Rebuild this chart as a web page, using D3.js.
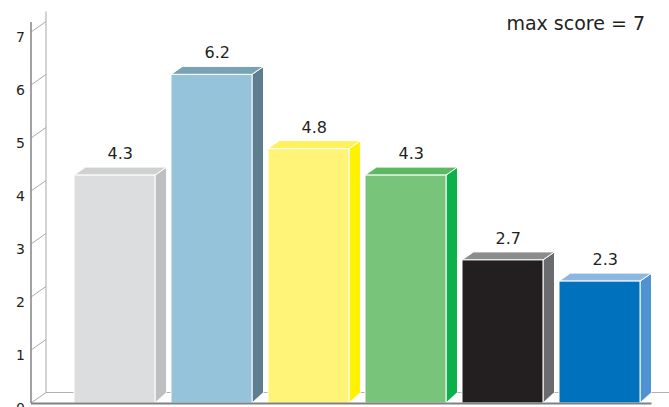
<!DOCTYPE html>
<html>
<head>
<meta charset="utf-8">
<script src="https://d3js.org/d3.v7.min.js"></script>
<style>
    body { margin: 0; background: #fff; }
    text { font-family: "DejaVu Sans", sans-serif; fill: #231f20; }
</style>
</head>
<body>
<div id="chart"></div>
<script>
// data
var categories = ["A", "B", "C", "D", "E", "F"];
var scores = [4.3, 6.2, 4.8, 4.3, 2.7, 2.3];
var tickValues = [0, 1, 2, 3, 4, 5, 6, 7];
var maxScore = 7;
var frontColors = ["#dcdddf", "#94c3da", "#fff378", "#77c47a", "#231f20", "#0071bc"];
var sideColors  = ["#bebfc1", "#5e7e8f", "#fff200", "#0db14b", "#6a6b6e", "#4f92d1"];
var topColors   = ["#cfd0d2", "#78a2b6", "#fff15c", "#5cb962", "#8b8c8e", "#8cb7e2"];

var width = 669, height = 407;
var axisX = 31, wallDX = 15, wallDY = 10.5;
var barDX = 11.5, barDY = 8;

var svg = d3.select("#chart").append("svg")
    .attr("width", width)
    .attr("height", height);

var y = d3.scaleLinear().domain([0, maxScore]).range([403, 32]);
var x = d3.scaleBand().domain(categories)
    .range([66, 648])
    .paddingInner(0.165)
    .paddingOuter(0.0825);

// back wall
var wall = svg.append("g");
wall.append("line")
    .attr("x1", axisX + wallDX).attr("x2", axisX + wallDX)
    .attr("y1", y(maxScore) - wallDY - 10).attr("y2", y(0) - wallDY)
    .attr("stroke", "#c4c5c7").attr("stroke-width", 1.5);
wall.append("line")
    .attr("x1", axisX + wallDX).attr("x2", width)
    .attr("y1", y(0) - wallDY).attr("y2", y(0) - wallDY)
    .attr("stroke", "#b0b1b3").attr("stroke-width", 1.2);
wall.selectAll(".tick")
    .data(tickValues)
    .enter().append("line")
    .attr("x1", axisX).attr("y1", function(d) { return y(d); })
    .attr("x2", axisX + wallDX).attr("y2", function(d) { return y(d) - wallDY; })
    .attr("stroke", "#a7a8aa").attr("stroke-width", 1);

// front axis
svg.append("line")
    .attr("x1", axisX).attr("x2", axisX)
    .attr("y1", y(maxScore) - 10).attr("y2", y(0))
    .attr("stroke", "#8a8b8d").attr("stroke-width", 1.6);

svg.selectAll(".ylabel")
    .data(tickValues)
    .enter().append("text")
    .attr("x", 25)
    .attr("y", function(d) { return y(d) + 9.5; })
    .attr("text-anchor", "end")
    .attr("font-size", 14)
    .text(function(d) { return d; });

// bars
var bars = svg.selectAll(".bar")
    .data(scores)
    .enter().append("g");

bars.append("path")   // side face
    .attr("fill", function(d, i) { return sideColors[i]; })
    .attr("stroke", "#fff").attr("stroke-width", 1)
    .attr("d", function(d, i) {
        var x0 = x(categories[i]) + x.bandwidth();
        return "M" + x0 + "," + y(d) +
            "L" + (x0 + barDX) + "," + (y(d) - barDY) +
            "L" + (x0 + barDX) + "," + (y(0) - wallDY) +
            "L" + x0 + "," + y(0) + "Z";
    });

bars.append("path")   // top face
    .attr("fill", function(d, i) { return topColors[i]; })
    .attr("stroke", "#fff").attr("stroke-width", 1)
    .attr("d", function(d, i) {
        var x0 = x(categories[i]), x1 = x0 + x.bandwidth();
        return "M" + x0 + "," + y(d) +
            "L" + (x0 + barDX) + "," + (y(d) - barDY) +
            "L" + (x1 + barDX) + "," + (y(d) - barDY) +
            "L" + x1 + "," + y(d) + "Z";
    });

bars.append("rect")   // front face
    .attr("x", function(d, i) { return x(categories[i]); })
    .attr("y", function(d) { return y(d); })
    .attr("width", x.bandwidth())
    .attr("height", function(d) { return y(0) - y(d); })
    .attr("fill", function(d, i) { return frontColors[i]; })
    .attr("stroke", "#fff").attr("stroke-width", 1);

bars.append("text")
    .attr("x", function(d, i) { return x(categories[i]) + (x.bandwidth() + barDX) / 2; })
    .attr("y", function(d) { return y(d) - barDY - 8; })
    .attr("text-anchor", "middle")
    .attr("font-size", 16)
    .text(function(d) { return d.toFixed(1); });

// floor front edge
svg.append("line")
    .attr("x1", axisX).attr("x2", x(categories[5]) + x.bandwidth() + barDX)
    .attr("y1", y(0) + 0.5).attr("y2", y(0) + 0.5)
    .attr("stroke", "#808183").attr("stroke-width", 2);

svg.append("text")
    .attr("x", 645)
    .attr("y", 30)
    .attr("text-anchor", "end")
    .attr("font-size", 19)
    .text("max score = " + maxScore);
</script>
</body>
</html>
